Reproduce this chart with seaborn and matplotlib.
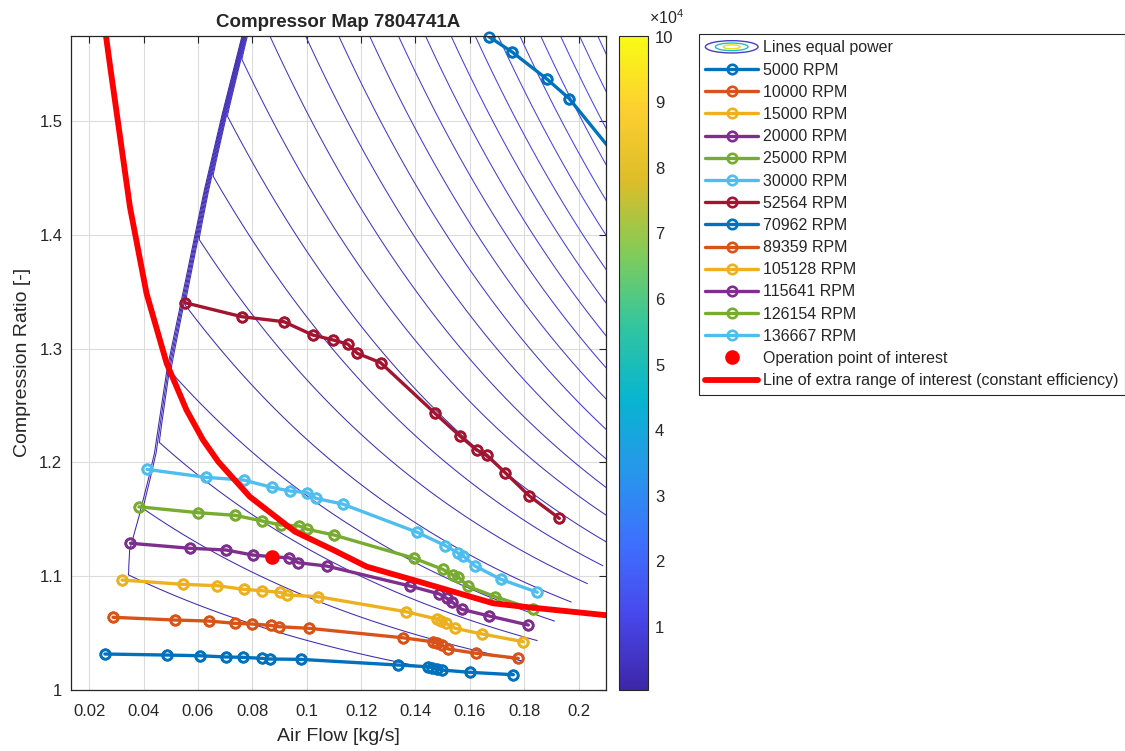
import numpy as np
import pandas as pd
import seaborn as sns
import matplotlib
matplotlib.use("Agg")
import matplotlib.pyplot as plt
from matplotlib.colors import LinearSegmentedColormap, Normalize
from matplotlib.cm import ScalarMappable
from matplotlib.lines import Line2D
from matplotlib.patches import Ellipse, Patch
from matplotlib.legend_handler import HandlerBase
from matplotlib.ticker import FuncFormatter

# ---------------- data ----------------
SPEED_LABELS = ["5000 RPM", "10000 RPM", "15000 RPM", "20000 RPM", "25000 RPM",
                "30000 RPM", "52564 RPM", "70962 RPM", "89359 RPM", "105128 RPM",
                "115641 RPM", "126154 RPM", "136667 RPM"]

flow_5000 = [0.0258, 0.0485, 0.0607, 0.0703, 0.0764, 0.0835, 0.0865, 0.0978, 0.1337,
             0.1446, 0.1460, 0.1478, 0.1497, 0.1601, 0.1760]
pr_5000 = [1.0314, 1.0305, 1.0299, 1.0288, 1.0285, 1.0276, 1.0270, 1.0267, 1.0217,
           1.0202, 1.0193, 1.0185, 1.0173, 1.0153, 1.0132]

flow_10000 = [0.0288, 0.0515, 0.0640, 0.0736, 0.0800, 0.0867, 0.0899, 0.1009, 0.1353,
              0.1463, 0.1479, 0.1497, 0.1521, 0.1623, 0.1778]
pr_10000 = [1.0637, 1.0613, 1.0604, 1.0584, 1.0578, 1.0566, 1.0554, 1.0540, 1.0457,
            1.0422, 1.0410, 1.0393, 1.0358, 1.0320, 1.0276]

flow_15000 = [0.0321, 0.0544, 0.0671, 0.0769, 0.0834, 0.0902, 0.0929, 0.1043, 0.1365,
              0.1478, 0.1494, 0.1512, 0.1546, 0.1645, 0.1797]
pr_15000 = [1.0965, 1.0927, 1.0915, 1.0883, 1.0871, 1.0857, 1.0833, 1.0818, 1.0686,
            1.0622, 1.0604, 1.0584, 1.0540, 1.0490, 1.0422]

flow_20000 = [0.0352, 0.0571, 0.0703, 0.0801, 0.0872, 0.0936, 0.0969, 0.1073, 0.1380,
              0.1488, 0.1515, 0.1533, 0.1570, 0.1672, 0.1815]
pr_20000 = [1.1288, 1.1244, 1.1229, 1.1185, 1.1170, 1.1160, 1.1117, 1.1088, 1.0912,
            1.0842, 1.0804, 1.0774, 1.0707, 1.0648, 1.0569]

flow_25000 = [0.0383, 0.0601, 0.0736, 0.0837, 0.0904, 0.0973, 0.1002, 0.1100, 0.1395,
              0.1500, 0.1537, 0.1558, 0.1594, 0.1693, 0.1834]
pr_25000 = [1.1609, 1.1557, 1.1534, 1.1484, 1.1449, 1.1440, 1.1411, 1.1361, 1.1156,
            1.1059, 1.1009, 1.0989, 1.0909, 1.0818, 1.0707]

flow_30000 = [0.0413, 0.0629, 0.0769, 0.0871, 0.0938, 0.1002, 0.1034, 0.1132, 0.1407,
              0.1509, 0.1555, 0.1576, 0.1619, 0.1714, 0.1848]
pr_30000 = [1.1938, 1.1868, 1.1844, 1.1780, 1.1748, 1.1733, 1.1683, 1.1633, 1.1384,
            1.1268, 1.1205, 1.1176, 1.1088, 1.0971, 1.0857]

flow_52564 = [0.0552, 0.0761, 0.0916, 0.1022, 0.1098, 0.1151, 0.1186, 0.1272, 0.1472,
              0.1564, 0.1625, 0.1662, 0.1730, 0.1819, 0.1929]
pr_52564 = [1.3404, 1.3281, 1.3237, 1.3120, 1.3076, 1.3040, 1.2959, 1.2876, 1.2431,
            1.2231, 1.2108, 1.2064, 1.1909, 1.1704, 1.1507]

flow_70962 = [0.1669, 0.1755, 0.1884, 0.1965, 0.2145]
pr_70962 = [1.5745, 1.5610, 1.5370, 1.5200, 1.4670]

# speed lines above 70962 RPM lie outside the visible window
flow_89359, pr_89359 = [], []
flow_105128, pr_105128 = [], []
flow_115641, pr_115641 = [], []
flow_126154, pr_126154 = [], []
flow_136667, pr_136667 = [], []

op_flow = [0.0871]
op_pr = [1.117]

eff_flow = [0.0256, 0.0262, 0.0276, 0.0350, 0.0411, 0.0485, 0.0558, 0.0619, 0.0675,
            0.0791, 0.0957, 0.1098, 0.1221, 0.1392, 0.1686, 0.1797, 0.2102]
eff_pr = [1.585, 1.5749, 1.5503, 1.4246, 1.3486, 1.2871, 1.2460, 1.2196, 1.2005,
          1.1697, 1.1390, 1.1229, 1.1082, 1.0965, 1.0760, 1.0730, 1.0655]

# boundaries of the measured map region (equal-power field)
surge_pr = [0.99, 1.031, 1.064, 1.0807, 1.1229, 1.1519, 1.1844, 1.2082, 1.2812,
            1.3632, 1.4395, 1.5072, 1.5752, 1.62]
surge_flow = [0.0250, 0.0258, 0.0288, 0.0309, 0.0324, 0.0361, 0.0398, 0.0423, 0.0472,
              0.0546, 0.0614, 0.0682, 0.0755, 0.0800]
choke_pr = [0.99, 1.013, 1.0334, 1.1088, 1.62]
choke_flow = [0.1760, 0.1760, 0.1815, 0.2091, 0.3500]

# equal-power field fitted to the traced contour lines
field_scale = 5035.0
flow_decay = 0.164
pr_origin = 0.967
pr_power = 0.712
band_width = 0.0028
power_levels = np.arange(1485, 14000, 500)
cbar_min, cbar_max = 410, 100140
cbar_ticks = [10000, 20000, 30000, 40000, 50000, 60000, 70000, 80000, 90000, 100000]

x_ticks = [0.02, 0.04, 0.06, 0.08, 0.1, 0.12, 0.14, 0.16, 0.18, 0.2]
y_ticks = [1.0, 1.1, 1.2, 1.3, 1.4, 1.5]
x_limits = (0.0132, 0.2102)
y_limits = (1.0, 1.5752)

# ---------------- style ----------------
sns.set_theme(style="white")
plt.rcParams["font.family"] = ["Liberation Sans", "DejaVu Sans"]
plt.rcParams["mathtext.fontset"] = "custom"
plt.rcParams["mathtext.rm"] = "Liberation Sans"
DARK = "#262626"

matlab_colors = ["#0072BD", "#D95319", "#EDB120", "#7E2F8E", "#77AC30", "#4DBEEE", "#A2142F"]
parula = LinearSegmentedColormap.from_list("parula", [
    (0.000, (0.2422, 0.1504, 0.6603)),
    (0.111, (0.2803, 0.2782, 0.9221)),
    (0.222, (0.2440, 0.4358, 0.9988)),
    (0.333, (0.1540, 0.5902, 0.9218)),
    (0.444, (0.0297, 0.7082, 0.8163)),
    (0.556, (0.1938, 0.7758, 0.6251)),
    (0.667, (0.5044, 0.7993, 0.3480)),
    (0.778, (0.8634, 0.7406, 0.1596)),
    (0.889, (0.9892, 0.8136, 0.1885)),
    (1.000, (0.9769, 0.9839, 0.0805)),
])
norm = Normalize(vmin=cbar_min, vmax=cbar_max)

fig = plt.figure(figsize=(11.25, 7.51), dpi=100)
ax = fig.add_axes([0.0628, 0.0816, 0.4762, 0.8708])
cax = fig.add_axes([0.5505, 0.0816, 0.0255, 0.8708])

# ---------------- equal power lines ----------------
gx = np.linspace(0.012, 0.22, 900)
gy = np.linspace(0.99, 1.60, 900)
GX, GY = np.meshgrid(gx, gy)
xb = np.interp(GY, surge_pr, surge_flow)
ramp = np.clip((GX - xb) / band_width, 0, 1)
base = np.clip(GY - pr_origin, 1e-6, None)
P = field_scale * np.exp(GX / flow_decay) * base ** pr_power * ramp
floor = np.interp(GX, flow_5000, pr_5000)
choke = np.interp(GY, choke_pr, choke_flow)
P = np.ma.masked_where((GY < floor) | (GX > choke), P)
ax.contour(GX, GY, P, levels=power_levels, cmap=parula, norm=norm,
           linewidths=0.75, zorder=1)

# ---------------- speed lines ----------------
series = [(flow_5000, pr_5000), (flow_10000, pr_10000), (flow_15000, pr_15000),
          (flow_20000, pr_20000), (flow_25000, pr_25000), (flow_30000, pr_30000),
          (flow_52564, pr_52564), (flow_70962, pr_70962), (flow_89359, pr_89359),
          (flow_105128, pr_105128), (flow_115641, pr_115641),
          (flow_126154, pr_126154), (flow_136667, pr_136667)]

handles = []
for i, (lab, (fx, fy)) in enumerate(zip(SPEED_LABELS, series)):
    col = matlab_colors[i % 7]
    style = dict(color=col, linewidth=2.4, marker="o", markersize=6.8,
                 markerfacecolor="none", markeredgecolor=col, markeredgewidth=1.9)
    if len(fx):
        df = pd.DataFrame({"flow": fx, "pr": fy})
        sns.lineplot(data=df, x="flow", y="pr", ax=ax, sort=False, estimator=None,
                     legend=False, zorder=3, **style)
        # markers whose centre lies inside the axes are drawn whole (as MATLAB does)
        inside = df[(df.flow >= x_limits[0]) & (df.flow <= x_limits[1]) &
                    (df.pr >= y_limits[0]) & (df.pr <= y_limits[1])]
        ax.plot(inside.flow, inside.pr, linestyle="none", marker="o", markersize=6.8,
                markerfacecolor="none", markeredgecolor=col, markeredgewidth=1.9,
                clip_on=False, zorder=3)
    handles.append(Line2D([], [], **style))

df_eff = pd.DataFrame({"flow": eff_flow, "pr": eff_pr})
sns.lineplot(data=df_eff, x="flow", y="pr", ax=ax, sort=False, estimator=None,
             legend=False, color="#FF0000", linewidth=4.2, zorder=4)
ax.plot(op_flow, op_pr, linestyle="none", marker="o", markersize=9.5,
        color="#FF0000", markeredgecolor="#FF0000", zorder=5)

# ---------------- axes cosmetics ----------------
ax.set_xlim(*x_limits)
ax.set_ylim(*y_limits)
ax.set_xticks(x_ticks)
ax.set_yticks(y_ticks)
fmt = FuncFormatter(lambda v, _: f"{v:g}")
ax.xaxis.set_major_formatter(fmt)
ax.yaxis.set_major_formatter(fmt)
ax.grid(True, color="#dcdcdc", linewidth=0.8)
ax.set_axisbelow(True)
ax.tick_params(direction="in", length=5, width=0.8, top=True, right=True,
               colors=DARK, labelsize=12)
ax.tick_params(axis="x", pad=10)
ax.tick_params(axis="y", pad=6)
for s in ax.spines.values():
    s.set_color(DARK)
    s.set_linewidth(0.9)
    s.set_zorder(6)
ax.set_xlabel("Air Flow [kg/s]", fontsize=14, color=DARK, labelpad=7)
ax.set_ylabel("Compression Ratio [-]", fontsize=14, color=DARK, labelpad=6)
ax.set_title("Compressor Map 7804741A", fontsize=13.5, fontweight="bold", pad=6)

# ---------------- colorbar ----------------
cb = fig.colorbar(ScalarMappable(norm=norm, cmap=parula), cax=cax)
cb.set_ticks(cbar_ticks)
cb.ax.yaxis.set_major_formatter(FuncFormatter(lambda v, _: f"{v / 1e4:g}"))
cb.ax.tick_params(direction="in", length=5, width=0.8, colors=DARK, labelsize=12, pad=5)
cb.outline.set_edgecolor(DARK)
cb.outline.set_linewidth(0.8)
cax.text(1.05, 1.013, r"$\times10^{4}$", transform=cax.transAxes, ha="left",
         va="bottom", fontsize=11.5, color=DARK)


# ---------------- legend ----------------
class HandlerRings(HandlerBase):
    def create_artists(self, legend, orig_handle, xdescent, ydescent, width,
                       height, fontsize, trans):
        cx = -xdescent + width / 2.0
        cy = -ydescent + height / 2.0
        arts = []
        for frac, col in [(1.0, "#4a3fc0"), (0.62, "#22c0c8"), (0.32, "#e8e020")]:
            e = Ellipse((cx, cy), width * frac, height * 1.1 * frac, fill=False,
                        edgecolor=col, linewidth=1.0, transform=trans)
            arts.append(e)
        return arts


ring_proxy = Patch()
op_handle = Line2D([], [], linestyle="none", marker="o", markersize=9.5,
                   color="#FF0000", markeredgecolor="#FF0000")
eff_handle = Line2D([], [], color="#FF0000", linewidth=4.2)
all_handles = [ring_proxy] + handles + [op_handle, eff_handle]
all_labels = (["Lines equal power"] + SPEED_LABELS +
              ["Operation point of interest",
               "Line of extra range of interest (constant efficiency)"])
leg = fig.legend(all_handles, all_labels, loc="upper left",
                 bbox_to_anchor=(0.6213, 0.9547), bbox_transform=fig.transFigure,
                 borderaxespad=0, fontsize=11.5, handlelength=3.3, handletextpad=0.3,
                 labelspacing=0.45, borderpad=0.4, frameon=True, fancybox=False,
                 framealpha=1, edgecolor=DARK, handler_map={ring_proxy: HandlerRings()})
leg.get_frame().set_linewidth(0.8)

fig.savefig("out.png", dpi=100)
